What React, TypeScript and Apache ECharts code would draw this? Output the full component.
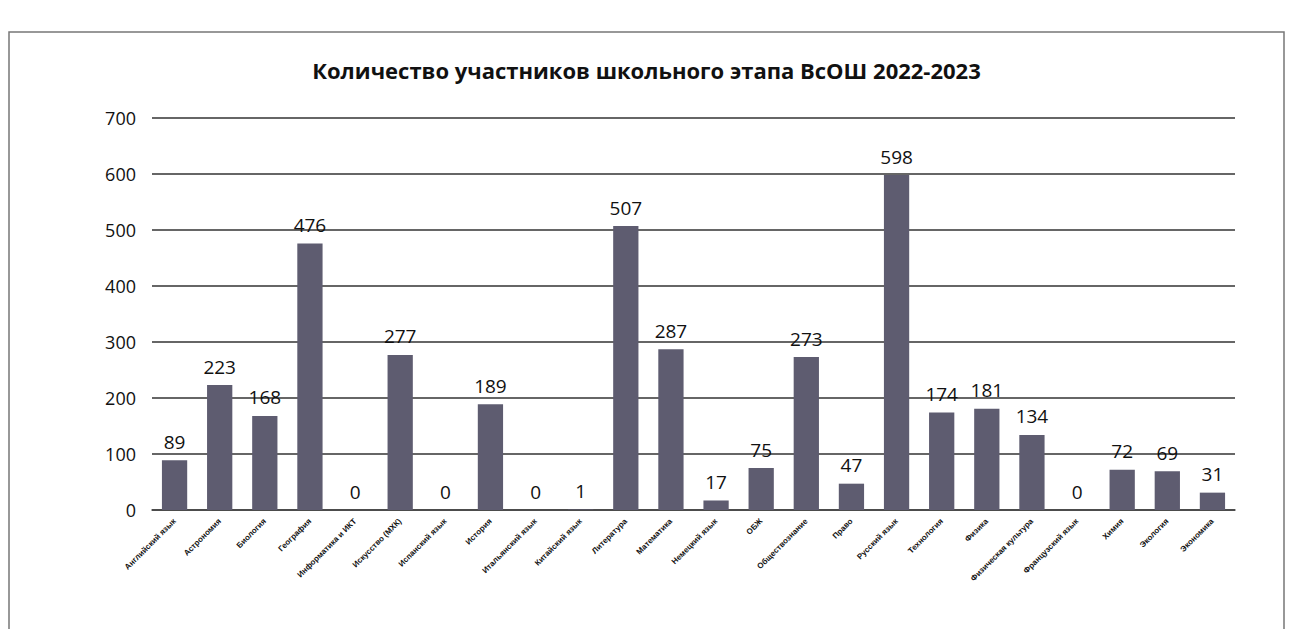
import React, { useEffect, useRef } from "react";
import * as echarts from "echarts";

const categories = [
  "Английский язык", "Астрономия", "Биология", "География", "Информатика и ИКТ",
  "Искусство (МХК)", "Испанский язык", "История", "Итальянский язык", "Китайский язык",
  "Литература", "Математика", "Немецкий язык", "ОБЖ", "Обществознание", "Право",
  "Русский язык", "Технология", "Физика", "Физическая культура", "Французский язык",
  "Химия", "Экология", "Экономика",
];
const participants = [89, 223, 168, 476, 0, 277, 0, 189, 0, 1, 507, 287, 17, 75, 273, 47, 598, 174, 181, 134, 0, 72, 69, 31];
const titleText = "Количество участников школьного этапа ВсОШ 2022-2023";

export default function App() {
  const ref = useRef<HTMLDivElement>(null);
  useEffect(() => {
    if (!ref.current) return;
    const chart = echarts.init(ref.current, null, { renderer: "svg" });
    chart.setOption({
      animation: false,
      backgroundColor: "#ffffff",
      title: {
        text: titleText,
        left: "center",
        top: 54,
        textStyle: { fontFamily: "Open Sans", fontSize: 22, fontWeight: "bold", color: "#111" },
      },
      graphic: [
        {
          type: "rect",
          shape: { x: 9, y: 32, width: 1275, height: 600 },
          style: { fill: "none", stroke: "#777", lineWidth: 1.5 },
          silent: true,
        },
      ],
      grid: { left: 152, right: 58, top: 118, bottom: 119, containLabel: false },
      xAxis: {
        type: "category",
        data: categories,
        axisTick: { show: false },
        axisLine: { lineStyle: { color: "#444", width: 1.5 } },
        axisLabel: {
          rotate: 45,
          interval: 0,
          fontSize: 8,
          fontWeight: "bold",
          color: "#111",
          fontFamily: "Liberation Sans",
          margin: 10,
        },
      },
      yAxis: {
        type: "value",
        min: 0,
        max: 700,
        interval: 100,
        axisLine: { show: false },
        axisTick: { show: false },
        splitLine: { lineStyle: { color: "#333", width: 1.5 } },
        axisLabel: { fontSize: 18, color: "#111", fontFamily: "Open Sans", margin: 16 },
      },
      series: [
        {
          type: "bar",
          data: participants,
          barWidth: "56%",
          itemStyle: { color: "#5e5c70" },
          label: {
            show: true,
            position: "top",
            distance: 9,
            fontSize: 19,
            color: "#111",
            fontFamily: "Open Sans",
          },
        },
      ],
    });
    return () => chart.dispose();
  }, []);
  return (
    <div
      ref={ref}
      style={{ position: "fixed", left: 0, top: 0, width: 1293, height: 629 }}
    />
  );
}
